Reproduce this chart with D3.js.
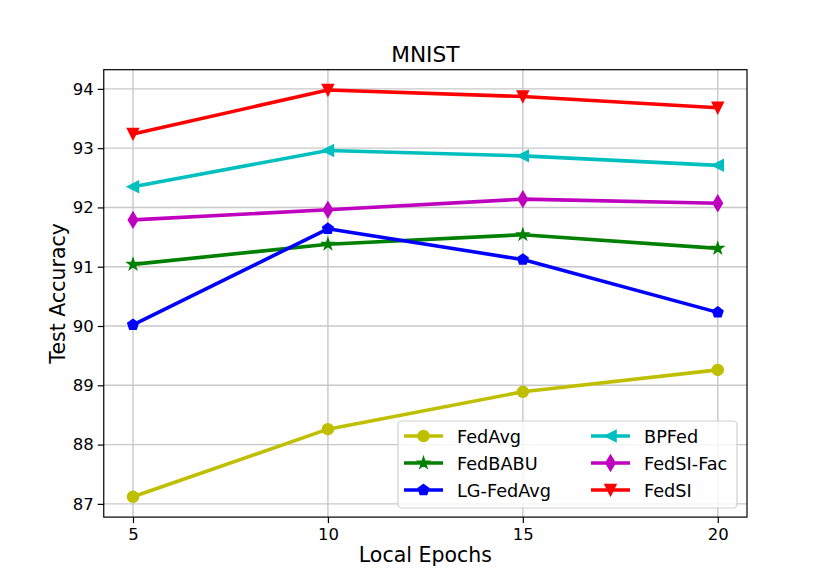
<!DOCTYPE html>
<html>
<head>
<meta charset="utf-8">
<script src="https://cdn.jsdelivr.net/npm/d3@7"></script>
<style>
  html, body { margin: 0; padding: 0; background: #fff; }
  svg { display: block; font-family: "DejaVu Sans", sans-serif; }
</style>
</head>
<body>
<svg id="chart" width="830" height="581"></svg>
<script>
// ---- data ----
const epochs = [5, 10, 15, 20];
const xTicks = [5, 10, 15, 20];
const yTicks = [87, 88, 89, 90, 91, 92, 93, 94];
const seriesNames = ["FedAvg", "FedBABU", "LG-FedAvg", "BPFed", "FedSI-Fac", "FedSI"];
const fedAvg   = [87.12, 88.26, 88.89, 89.26];
const fedBABU  = [91.04, 91.38, 91.54, 91.31];
const lgFedAvg = [90.02, 91.64, 91.12, 90.23];
const bpFed    = [92.35, 92.96, 92.87, 92.71];
const fedSIFac = [91.79, 91.96, 92.14, 92.07];
const fedSI    = [93.24, 93.98, 93.87, 93.68];
const seriesValues = [fedAvg, fedBABU, lgFedAvg, bpFed, fedSIFac, fedSI];
const seriesColors = ["#bfbf00", "#008000", "#0000ff", "#00bfbf", "#bf00bf", "#ff0000"];
const seriesMarkers = ["circle", "star", "pentagon", "triangleLeft", "thinDiamond", "triangleDown"];

(function () {
// ---- layout ----
const mL = 103.75, mR = 747, mT = 69.7, mB = 517.1;
const svg = d3.select("#chart");

const allVals = seriesValues.flat();
const yMin = d3.min(allVals), yMax = d3.max(allVals);
const yPad = (yMax - yMin) * 0.05;
const xPad = (d3.max(epochs) - d3.min(epochs)) * 0.05;

const x = d3.scaleLinear().domain([d3.min(epochs) - xPad, d3.max(epochs) + xPad]).range([mL, mR]);
const y = d3.scaleLinear().domain([yMin - yPad, yMax + yPad]).range([mB, mT]);

// grid
const grid = svg.append("g");
grid.selectAll("line.gx").data(xTicks).join("line")
  .attr("x1", d => x(d)).attr("x2", d => x(d)).attr("y1", mT).attr("y2", mB)
  .attr("stroke", "#c8c8c8").attr("stroke-width", 1.4);
grid.selectAll("line.gy").data(yTicks).join("line")
  .attr("x1", mL).attr("x2", mR).attr("y1", d => y(d)).attr("y2", d => y(d))
  .attr("stroke", "#c8c8c8").attr("stroke-width", 1.4);

// axes
const xAxis = d3.axisBottom(x).tickValues(xTicks).tickSize(6).tickPadding(5).tickFormat(d3.format("d"));
const yAxis = d3.axisLeft(y).tickValues(yTicks).tickSize(6).tickPadding(4).tickFormat(d3.format("d"));
const gx = svg.append("g").attr("transform", `translate(0,${mB})`).call(xAxis);
const gy = svg.append("g").attr("transform", `translate(${mL},0)`).call(yAxis);
[gx, gy].forEach(g => {
  g.select(".domain").remove();
  g.selectAll(".tick line").attr("stroke", "#000").attr("stroke-width", 1.2);
  g.selectAll(".tick text").attr("fill", "#000").style("font-size", "16.5px").style("font-family", "DejaVu Sans");
});

// markers
function markerPath(type, s) {
  const r = s / 2;
  const pts = [];
  if (type === "circle") {
    return `M${r},0A${r},${r} 0 1,1 ${-r},0A${r},${r} 0 1,1 ${r},0Z`;
  }
  if (type === "star") {
    for (let i = 0; i < 10; i++) {
      const a = -Math.PI / 2 + i * Math.PI / 5;
      const rr = i % 2 === 0 ? r * 1.05 : r * 1.05 * 0.381966;
      pts.push([rr * Math.cos(a), rr * Math.sin(a)]);
    }
  } else if (type === "pentagon") {
    for (let i = 0; i < 5; i++) {
      const a = -Math.PI / 2 + i * 2 * Math.PI / 5;
      pts.push([r * Math.cos(a), r * Math.sin(a)]);
    }
  } else if (type === "triangleLeft") {
    pts.push([-r, 0], [r, -r], [r, r]);
  } else if (type === "triangleDown") {
    pts.push([0, r], [-r, -r], [r, -r]);
  } else if (type === "thinDiamond") {
    const h = r * 1.414, w = h * 0.6;
    pts.push([0, -h], [w, 0], [0, h], [-w, 0]);
  }
  return "M" + pts.map(p => p[0].toFixed(2) + "," + p[1].toFixed(2)).join("L") + "Z";
}

const line = d3.line().x((d, i) => x(epochs[i])).y(d => y(d));
const plot = svg.append("g");
seriesValues.forEach((vals, k) => {
  const g = plot.append("g");
  g.append("path").attr("d", line(vals)).attr("fill", "none")
    .attr("stroke", seriesColors[k]).attr("stroke-width", 3.6)
    .attr("stroke-linejoin", "round").attr("stroke-linecap", "butt");
  g.selectAll("path.m").data(vals).join("path")
    .attr("transform", (d, i) => `translate(${x(epochs[i])},${y(d)})`)
    .attr("d", markerPath(seriesMarkers[k], 11))
    .attr("fill", seriesColors[k]).attr("stroke", seriesColors[k]).attr("stroke-width", 1.5)
    .attr("stroke-linejoin", "miter");
});

// spines
svg.append("rect").attr("x", mL).attr("y", mT).attr("width", mR - mL).attr("height", mB - mT)
  .attr("fill", "none").attr("stroke", "#000").attr("stroke-width", 1.2);

// title and labels
svg.append("text").attr("x", (mL + mR) / 2).attr("y", 62).attr("text-anchor", "middle")
  .style("font-size", "21.7px").attr("fill", "#000").text("MNIST");
svg.append("text").attr("x", (mL + mR) / 2).attr("y", 562).attr("text-anchor", "middle")
  .style("font-size", "20.5px").attr("fill", "#000").text("Local Epochs");
svg.append("text").attr("transform", `translate(65,${(mT + mB) / 2}) rotate(-90)`).attr("text-anchor", "middle")
  .style("font-size", "20.5px").attr("fill", "#000").text("Test Accuracy");

// legend
const lg = svg.append("g");
lg.append("rect").attr("x", 398).attr("y", 421).attr("width", 339).attr("height", 87).attr("rx", 4)
  .attr("fill", "#fff").attr("fill-opacity", 0.8).attr("stroke", "#d0d0d0").attr("stroke-width", 1.2);
const colX = [404, 591];
const rowY = [436, 463, 490];
seriesNames.forEach((name, k) => {
  const c = Math.floor(k / 3), r = k % 3;
  const hx = colX[c], hy = rowY[r];
  lg.append("line").attr("x1", hx).attr("x2", hx + 39).attr("y1", hy).attr("y2", hy)
    .attr("stroke", seriesColors[k]).attr("stroke-width", 3.6);
  lg.append("path").attr("transform", `translate(${hx + 19.5},${hy})`)
    .attr("d", markerPath(seriesMarkers[k], 11))
    .attr("fill", seriesColors[k]).attr("stroke", seriesColors[k]).attr("stroke-width", 1.5);
  lg.append("text").attr("x", hx + 53).attr("y", hy + 6.5).style("font-size", "17.7px")
    .attr("fill", "#000").text(name);
});
})();
</script>
</body>
</html>
